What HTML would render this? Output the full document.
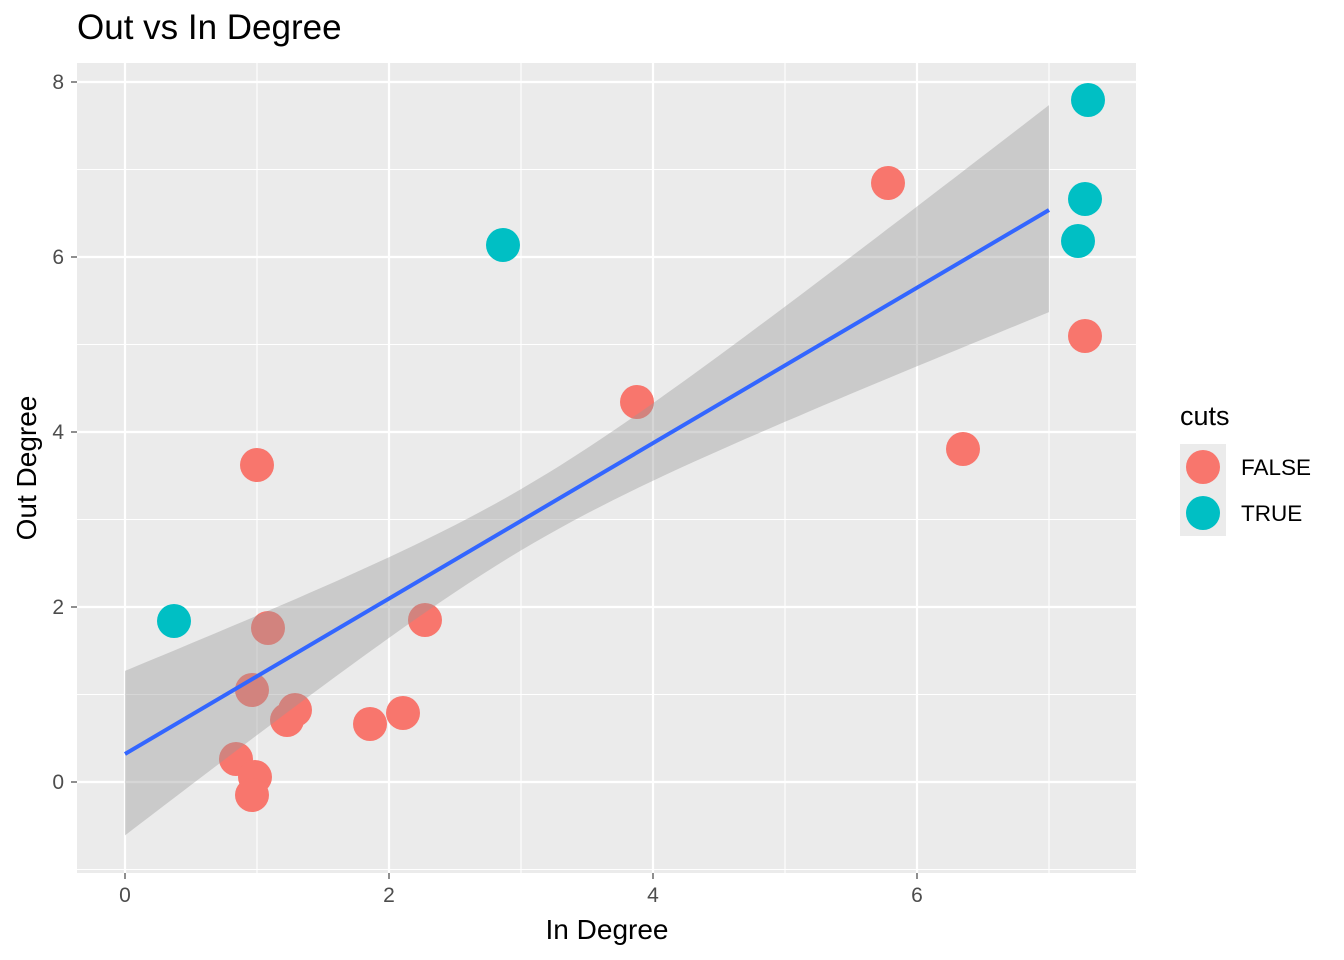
<!DOCTYPE html>
<html><head><meta charset="utf-8"><style>body{margin:0;background:#fff}svg{display:block;font-family:"Liberation Sans",sans-serif}</style></head>
<body>
<svg id="s" width="1344" height="960" xmlns="http://www.w3.org/2000/svg">
<rect x="77" y="63" width="1059" height="810" fill="#EBEBEB"/>
<g stroke="#fff" stroke-width="1.1">
<line x1="257" x2="257" y1="63" y2="873"/><line x1="521" x2="521" y1="63" y2="873"/><line x1="785" x2="785" y1="63" y2="873"/><line x1="1049" x2="1049" y1="63" y2="873"/>
<line x1="77" x2="1136" y1="169.5" y2="169.5"/><line x1="77" x2="1136" y1="344.5" y2="344.5"/><line x1="77" x2="1136" y1="519.5" y2="519.5"/><line x1="77" x2="1136" y1="694.5" y2="694.5"/><line x1="77" x2="1136" y1="869.5" y2="869.5"/>
</g>
<g stroke="#fff" stroke-width="2.2">
<line x1="125" x2="125" y1="63" y2="873"/><line x1="389" x2="389" y1="63" y2="873"/><line x1="653" x2="653" y1="63" y2="873"/><line x1="917" x2="917" y1="63" y2="873"/>
<line x1="77" x2="1136" y1="82" y2="82"/><line x1="77" x2="1136" y1="257" y2="257"/><line x1="77" x2="1136" y1="432" y2="432"/><line x1="77" x2="1136" y1="607" y2="607"/><line x1="77" x2="1136" y1="782" y2="782"/>
</g>
<g id="pts"></g>
<path id="rib" fill="#999" fill-opacity="0.4"/>
<line x1="125" y1="754" x2="1049" y2="210" stroke="#3366FF" stroke-width="4"/>
<g stroke="#333" stroke-width="1.1">
<line x1="125" x2="125" y1="873" y2="879"/><line x1="389" x2="389" y1="873" y2="879"/><line x1="653" x2="653" y1="873" y2="879"/><line x1="917" x2="917" y1="873" y2="879"/>
<line x1="71" x2="77" y1="82" y2="82"/><line x1="71" x2="77" y1="257" y2="257"/><line x1="71" x2="77" y1="432" y2="432"/><line x1="71" x2="77" y1="607" y2="607"/><line x1="71" x2="77" y1="782" y2="782"/>
</g>
<g fill="#4D4D4D" font-size="21" text-anchor="middle">
<text x="125" y="902">0</text><text x="389" y="902">2</text><text x="653" y="902">4</text><text x="917" y="902">6</text>
</g>
<g fill="#4D4D4D" font-size="21" text-anchor="end">
<text x="64" y="89">8</text><text x="64" y="264">6</text><text x="64" y="439">4</text><text x="64" y="614">2</text><text x="64" y="789">0</text>
</g>
<text x="607" y="939" font-size="28" text-anchor="middle">In Degree</text>
<text transform="translate(36,468) rotate(-90)" font-size="28" text-anchor="middle">Out Degree</text>
<text x="77" y="39" font-size="35">Out vs In Degree</text>
<text x="1180" y="425" font-size="27">cuts</text>
<rect x="1180" y="444" width="46" height="46" fill="#EBEBEB"/><rect x="1180" y="490" width="46" height="46" fill="#EBEBEB"/>
<circle cx="1203" cy="467" r="17" fill="#F8766D"/><circle cx="1203" cy="513" r="17" fill="#00BFC4"/>
<text x="1241" y="475" font-size="22.5">FALSE</text><text x="1241" y="521" font-size="22.5">TRUE</text>
</svg>
<script>
var F=[[888,183],[1085,336],[637,402],[963,449],[257,465],[268,628],[425,620],[252,690],[295,710],[287,720],[370,724],[403,713],[236,759],[255,777],[252,795]];
var T=[[1088,100],[1085,199],[1078,241],[503,245],[174,621]];
var g=document.getElementById('pts'),h='';
F.forEach(function(p){h+='<circle cx="'+p[0]+'" cy="'+p[1]+'" r="17" fill="#F8766D"/>';});
T.forEach(function(p){h+='<circle cx="'+p[0]+'" cy="'+p[1]+'" r="17" fill="#00BFC4"/>';});
g.innerHTML=h;
var up=[],lo=[];
for(var i=0;i<=70;i++){var x=i/10,c=0.33+0.889*x,w=Math.sqrt(0.1225+0.0818*(x-3.05)*(x-3.05));
var px=125+132*x;up.push(px.toFixed(1)+','+(782-87.5*(c+w)).toFixed(1));lo.unshift(px.toFixed(1)+','+(782-87.5*(c-w)).toFixed(1));}
document.getElementById('rib').setAttribute('d','M'+up.join(' L')+' L'+lo.join(' L')+'Z');
</script>
</body></html>
